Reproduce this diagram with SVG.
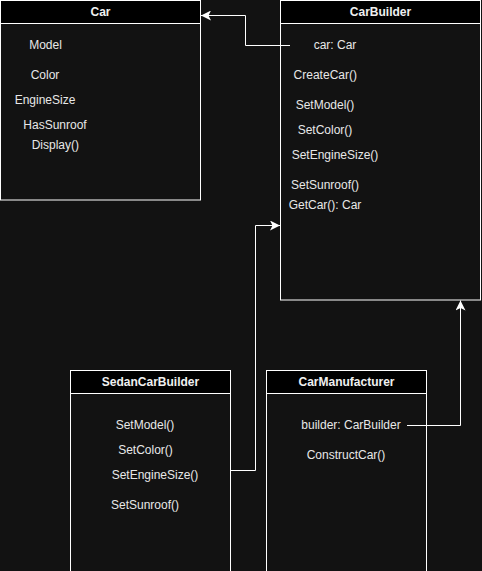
<svg xmlns="http://www.w3.org/2000/svg" width="482" height="571" viewBox="0 0 482 571">
<defs>
<style>
.box{fill:#121212;stroke:#ffffff;stroke-width:1}
.hdr{fill:#000000;stroke:#ffffff;stroke-width:1}
.t{font-family:"Liberation Sans",Arial,sans-serif;font-size:12px;fill:#e8e8e8;text-anchor:middle}
.h{font-family:"Liberation Sans",Arial,sans-serif;font-size:12px;font-weight:bold;fill:#f0f0f0;text-anchor:middle}
.c{fill:none;stroke:#ffffff;stroke-width:1}
</style>
<marker id="arr" viewBox="0 0 10 10" refX="10" refY="5" markerWidth="10" markerHeight="10" markerUnits="userSpaceOnUse" orient="auto">
<path d="M0,0 L10,5 L0,10 L2.5,5 Z" fill="#ffffff"/>
</marker>
</defs>
<rect x="0" y="0" width="482" height="571" fill="#121212"/>
<g id="car">
<rect class="box" x="0.5" y="0.5" width="200" height="199.5"/>
<rect class="hdr" x="0.5" y="0.5" width="200" height="23"/>
<text class="h" x="100.5" y="16">Car</text>
<text class="t" x="45.5" y="49">Model</text>
<text class="t" x="45" y="79">Color</text>
<text class="t" x="45" y="104">EngineSize</text>
<text class="t" x="55" y="129">HasSunroof</text>
<text class="t" x="55.3" y="149">Display()</text>
</g>
<g id="carbuilder">
<rect class="box" x="280.5" y="0.5" width="200" height="299.5"/>
<rect class="hdr" x="280.5" y="0.5" width="200" height="23"/>
<text class="h" x="380.5" y="16">CarBuilder</text>
<text class="t" x="335" y="49">car: Car</text>
<text class="t" x="325.3" y="79">CreateCar()</text>
<text class="t" x="325" y="109">SetModel()</text>
<text class="t" x="325" y="134">SetColor()</text>
<text class="t" x="335" y="159">SetEngineSize()</text>
<text class="t" x="325" y="189">SetSunroof()</text>
<text class="t" x="325" y="209">GetCar(): Car</text>
</g>
<g id="sedancarbuilder">
<rect class="box" x="70.5" y="370.5" width="160" height="205"/>
<rect class="hdr" x="70.5" y="370.5" width="160" height="23"/>
<text class="h" x="150.5" y="386">SedanCarBuilder</text>
<text class="t" x="145" y="429">SetModel()</text>
<text class="t" x="145.5" y="454">SetColor()</text>
<text class="t" x="155" y="479">SetEngineSize()</text>
<text class="t" x="145" y="509">SetSunroof()</text>
</g>
<g id="carmanufacturer">
<rect class="box" x="266.5" y="370.5" width="160" height="205"/>
<rect class="hdr" x="266.5" y="370.5" width="160" height="23"/>
<text class="h" x="346.5" y="386">CarManufacturer</text>
<text class="t" x="351" y="429">builder: CarBuilder</text>
<text class="t" x="346" y="459">ConstructCar()</text>
</g>
<g id="connectors">
<path class="c" d="M290,45.5 L245.5,45.5 L245.5,15.5 L201,15.5" marker-end="url(#arr)"/>
<path class="c" d="M230.5,470.5 L255.5,470.5 L255.5,225.5 L280,225.5" marker-end="url(#arr)"/>
<path class="c" d="M407,425.5 L460.5,425.5 L460.5,300.5" marker-end="url(#arr)"/>
</g>
</svg>
